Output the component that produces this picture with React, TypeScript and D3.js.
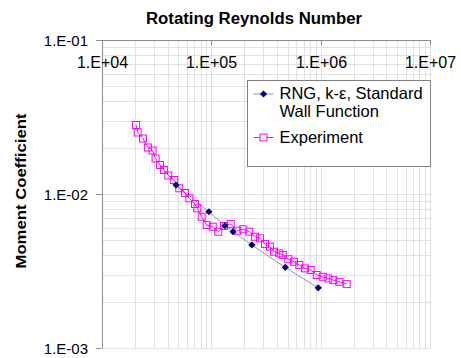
import { useEffect, useRef } from "react";
import * as d3 from "d3";

// CFD: RNG k-epsilon with standard wall function
const cfdRe = [47500, 95000, 133000, 158000, 235000, 475000, 950000];
const cfdCm = [0.01144, 0.00767, 0.00622, 0.00569, 0.00467, 0.00334, 0.00246];

// Experimental data
const expRe = [
  20500, 21200, 23700, 26300, 29000, 30900, 33900, 36900, 40400, 45700,
  50900, 57400, 62900, 70900, 74400, 81600, 90700, 103000, 115800, 130600,
  150400, 172800, 196000, 222400, 250700, 278600, 309600, 344000, 374300, 418600,
  449700, 505800, 570300, 637600, 719200, 810500, 919700, 1043800, 1174700, 1305000,
  1481000, 1730000,
];
const expCm = [
  0.02806, 0.02509, 0.02293, 0.02004, 0.01916, 0.017, 0.01543, 0.01432, 0.01319, 0.01233,
  0.01089, 0.01015, 0.00938, 0.00861, 0.00807, 0.00712, 0.00629, 0.00613, 0.00569, 0.0062,
  0.00639, 0.00578, 0.0059, 0.00569, 0.00528, 0.00516, 0.00474, 0.00455, 0.00422, 0.00412,
  0.00402, 0.00377, 0.00363, 0.00346, 0.00329, 0.00321, 0.00298, 0.0029, 0.00283, 0.00276,
  0.00269, 0.0026,
];

const xTicks = [1e4, 1e5, 1e6, 1e7];
const xTickLabels = ["1.E+04", "1.E+05", "1.E+06", "1.E+07"];
const yTicks = [1e-1, 1e-2, 1e-3];
const yTickLabels = ["1.E-01", "1.E-02", "1.E-03"];
const seriesNames = ["RNG, k-\u03b5, Standard", "Wall Function", "Experiment"];

const WIDTH = 461;
const HEIGHT = 358;
const FONT = "'Liberation Sans', Arial, Helvetica, sans-serif";

function App() {
  const svgRef = useRef<SVGSVGElement | null>(null);

  useEffect(() => {
    const svg = d3.select(svgRef.current);
    svg.selectAll("*").remove();

    const margin = { top: 40, right: 31, bottom: 10, left: 102 };
    const x = d3.scaleLog().domain([1e4, 1e7]).range([margin.left, WIDTH - margin.right]);
    const y = d3.scaleLog().domain([1e-3, 1e-1]).range([HEIGHT - margin.bottom, margin.top]);

    svg.append("rect").attr("width", WIDTH).attr("height", HEIGHT).attr("fill", "#fff");

    // minor + major gridlines
    const xGrid: number[] = [];
    for (let e = 4; e < 7; e++) for (let m = 1; m <= 9; m++) xGrid.push(m * 10 ** e);
    xGrid.push(1e7);
    const yGrid: number[] = [];
    for (let e = -3; e < -1; e++) for (let m = 1; m <= 9; m++) yGrid.push(m * 10 ** e);
    yGrid.push(1e-1);

    const grid = svg.append("g").attr("stroke", "#e0e0e0").attr("stroke-width", 1);
    grid
      .selectAll("line.gx")
      .data(xGrid)
      .enter()
      .append("line")
      .attr("x1", (d) => Math.round(x(d)) + 0.5)
      .attr("x2", (d) => Math.round(x(d)) + 0.5)
      .attr("y1", y(1e-1))
      .attr("y2", y(1e-3));
    grid
      .selectAll("line.gy")
      .data(yGrid)
      .enter()
      .append("line")
      .attr("x1", x(1e4))
      .attr("x2", x(1e7))
      .attr("y1", (d) => Math.round(y(d)) + 0.5)
      .attr("y2", (d) => Math.round(y(d)) + 0.5);

    // axes lines (x axis crosses at top)
    const axisColor = "#8c8c8c";
    svg
      .append("line")
      .attr("x1", x(1e4) + 0.5)
      .attr("x2", x(1e4) + 0.5)
      .attr("y1", y(1e-1))
      .attr("y2", y(1e-3))
      .attr("stroke", axisColor);
    svg
      .append("line")
      .attr("x1", x(1e4))
      .attr("x2", x(1e7))
      .attr("y1", y(1e-1) + 0.5)
      .attr("y2", y(1e-1) + 0.5)
      .attr("stroke", axisColor);

    // y ticks + labels
    yTicks.forEach((t, i) => {
      const py = Math.round(y(t)) + 0.5;
      svg
        .append("line")
        .attr("x1", x(1e4) - 6)
        .attr("x2", x(1e4))
        .attr("y1", py)
        .attr("y2", py)
        .attr("stroke", axisColor);
      svg
        .append("text")
        .attr("x", x(1e4) - 14)
        .attr("y", py + 5)
        .attr("text-anchor", "end")
        .style("font-family", FONT)
        .style("font-size", "15px")
        .attr("fill", "#000")
        .text(yTickLabels[i]);
    });

    // x ticks + labels
    xTicks.forEach((t, i) => {
      const px = Math.round(x(t)) + 0.5;
      svg
        .append("line")
        .attr("x1", px)
        .attr("x2", px)
        .attr("y1", y(1e-1))
        .attr("y2", y(1e-1) + 5)
        .attr("stroke", axisColor);
      svg
        .append("text")
        .attr("x", px)
        .attr("y", 68)
        .attr("text-anchor", "middle")
        .style("font-family", FONT)
        .style("font-size", "16px")
        .attr("fill", "#000")
        .text(xTickLabels[i]);
    });

    // title
    svg
      .append("text")
      .attr("x", 254)
      .attr("y", 24)
      .attr("text-anchor", "middle")
      .attr("textLength", 216)
      .attr("lengthAdjust", "spacingAndGlyphs")
      .style("font-family", FONT)
      .style("font-size", "16px")
      .style("font-weight", "bold")
      .text("Rotating Reynolds Number");

    // y axis title
    svg
      .append("text")
      .attr("transform", `translate(26,${y(1e-2) - 3}) rotate(-90)`)
      .attr("text-anchor", "middle")
      .attr("textLength", 155)
      .attr("lengthAdjust", "spacingAndGlyphs")
      .style("font-family", FONT)
      .style("font-size", "15px")
      .style("font-weight", "bold")
      .text("Moment Coefficient");

    const cfd = cfdRe.map((re, i) => ({ re, cm: cfdCm[i] }));
    const exp = expRe.map((re, i) => ({ re, cm: expCm[i] }));

    const line = d3
      .line<{ re: number; cm: number }>()
      .x((d) => x(d.re))
      .y((d) => y(d.cm));

    // CFD series
    svg
      .append("path")
      .datum(cfd)
      .attr("d", line.curve(d3.curveCatmullRom.alpha(0.5)))
      .attr("fill", "none")
      .attr("stroke", "#8a8fc4")
      .attr("stroke-width", 1);

    // Experiment series
    svg
      .append("path")
      .datum(exp)
      .attr("d", line.curve(d3.curveLinear))
      .attr("fill", "none")
      .attr("stroke", "#ff00ff")
      .attr("stroke-width", 1);

    svg
      .append("g")
      .selectAll("rect")
      .data(exp)
      .enter()
      .append("rect")
      .attr("x", (d) => x(d.re) - 3.5)
      .attr("y", (d) => y(d.cm) - 3.5)
      .attr("width", 7)
      .attr("height", 7)
      .attr("fill", "none")
      .attr("stroke", "#ff00ff")
      .attr("stroke-width", 1);

    const diamond = d3.symbol().type(d3.symbolSquare).size(26);
    svg
      .append("g")
      .selectAll("path")
      .data(cfd)
      .enter()
      .append("path")
      .attr("d", diamond)
      .attr("transform", (d) => `translate(${x(d.re)},${y(d.cm)}) rotate(45)`)
      .attr("fill", "#000080");

    // Legend
    const legend = svg.append("g").attr("transform", "translate(247.5,80.5)");
    legend
      .append("rect")
      .attr("width", 183)
      .attr("height", 86)
      .attr("fill", "#fff")
      .attr("stroke", "#808080");
    legend
      .append("line")
      .attr("x1", 6)
      .attr("x2", 26)
      .attr("y1", 13.5)
      .attr("y2", 13.5)
      .attr("stroke", "#8a8fc4");
    legend
      .append("path")
      .attr("d", diamond)
      .attr("transform", "translate(16,13.5) rotate(45)")
      .attr("fill", "#000080");
    legend
      .append("line")
      .attr("x1", 6)
      .attr("x2", 26)
      .attr("y1", 57)
      .attr("y2", 57)
      .attr("stroke", "#ff00ff");
    legend
      .append("rect")
      .attr("x", 12.5)
      .attr("y", 53.5)
      .attr("width", 7)
      .attr("height", 7)
      .attr("fill", "#fff")
      .attr("stroke", "#ff00ff");
    [18, 36, 62].forEach((ty, i) => {
      legend
        .append("text")
        .attr("x", 32)
        .attr("y", ty)
        .style("font-family", FONT)
        .style("font-size", "16.5px")
        .attr("fill", "#000")
        .text(seriesNames[i]);
    });
  }, []);

  return (
    <svg
      ref={svgRef}
      width={WIDTH}
      height={HEIGHT}
      style={{ position: "absolute", left: 0, top: 0 }}
    />
  );
}

export default App;
